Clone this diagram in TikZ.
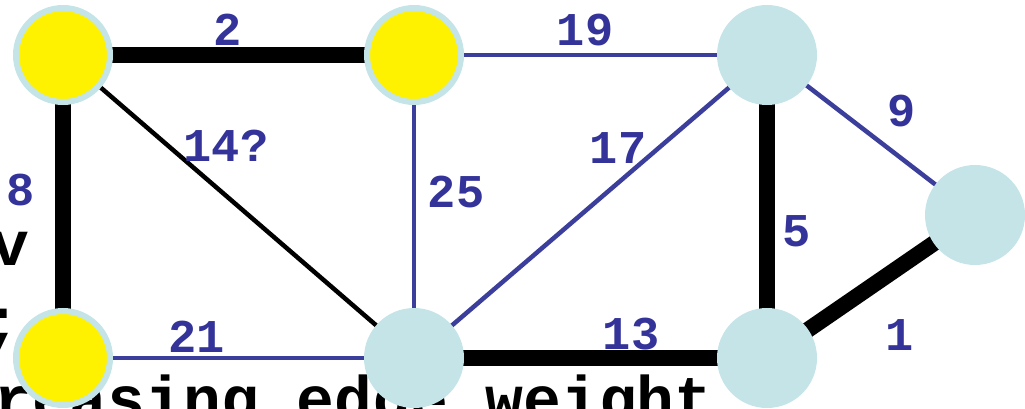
\documentclass[tikz,border=0pt]{standalone}
\usepackage{fontspec}
\setmonofont{Liberation Mono}
\begin{document}
\begin{tikzpicture}[x=1pt,y=-1pt,
  yel/.style={circle,draw=lblue,line width=6pt,fill=yellow,minimum size=94pt,inner sep=0pt},
  blu/.style={circle,fill=lblue,minimum size=100pt,inner sep=0pt},
  heavy/.style={line width=16pt,black},
  thinblue/.style={line width=4.5pt,eblue},
  thinblack/.style={line width=4.5pt,black},
  wlab/.style={text=lblcol,font=\ttfamily\bfseries\fontsize{47}{47}\selectfont,inner sep=0pt},
  bgtext/.style={font=\ttfamily\bfseries\fontsize{63}{63}\selectfont,inner sep=0pt,text=black}]
\definecolor{lblue}{HTML}{C4E4E8}
\definecolor{eblue}{HTML}{3B3F9B}
\definecolor{lblcol}{HTML}{333399}
\useasboundingbox (0,0) rectangle (1025,409);
\clip (0,0) rectangle (1025,409);
% background text fragments
\node[bgtext,anchor=base east] (tv) at (30,265) {v};
\node[bgtext,anchor=base east] (ts) at (22,342) {;};
\node[bgtext,anchor=base west] (tb) at (-6,420) {reasing edge weight};
% node coordinates
\coordinate (pA) at (63,55);
\coordinate (pB) at (414,55);
\coordinate (pC) at (767,55);
\coordinate (pD) at (975,215);
\coordinate (pE) at (767,358);
\coordinate (pF) at (414,358);
\coordinate (pG) at (63,358);
% edges
\draw[heavy] (pA) -- (pB);
\draw[thinblue] (pB) -- (pC);
\draw[heavy] (pA) -- (pG);
\draw[thinblack] (pA) -- (pF);
\draw[thinblue] (pB) -- (pF);
\draw[thinblue] (pF) -- (pC);
\draw[thinblue] (pC) -- (pD);
\draw[heavy] (pC) -- (pE);
\draw[heavy] (pE) -- (pD);
\draw[thinblue] (pG) -- (pF);
\draw[heavy] (pF) -- (pE);
% nodes
\node[yel] (A) at (pA) {};
\node[yel] (B) at (pB) {};
\node[blu] (C) at (pC) {};
\node[blu] (D) at (pD) {};
\node[blu] (E) at (pE) {};
\node[blu] (F) at (pF) {};
\node[yel] (G) at (pG) {};
% labels
\node[wlab] (l2) at (228,30) {2};
\node[wlab] (l19) at (585,30) {19};
\node[wlab] (l8) at (21,190) {8};
\node[wlab] (l14) at (226,146) {14?};
\node[wlab] (l25) at (456,192) {25};
\node[wlab] (l17) at (618,148) {17};
\node[wlab] (l9) at (902,111) {9};
\node[wlab] (l5) at (797,231) {5};
\node[wlab] (l1) at (900,335) {1};
\node[wlab] (l13) at (631,334) {13};
\node[wlab] (l21) at (197,337) {21};
\end{tikzpicture}
\end{document}
